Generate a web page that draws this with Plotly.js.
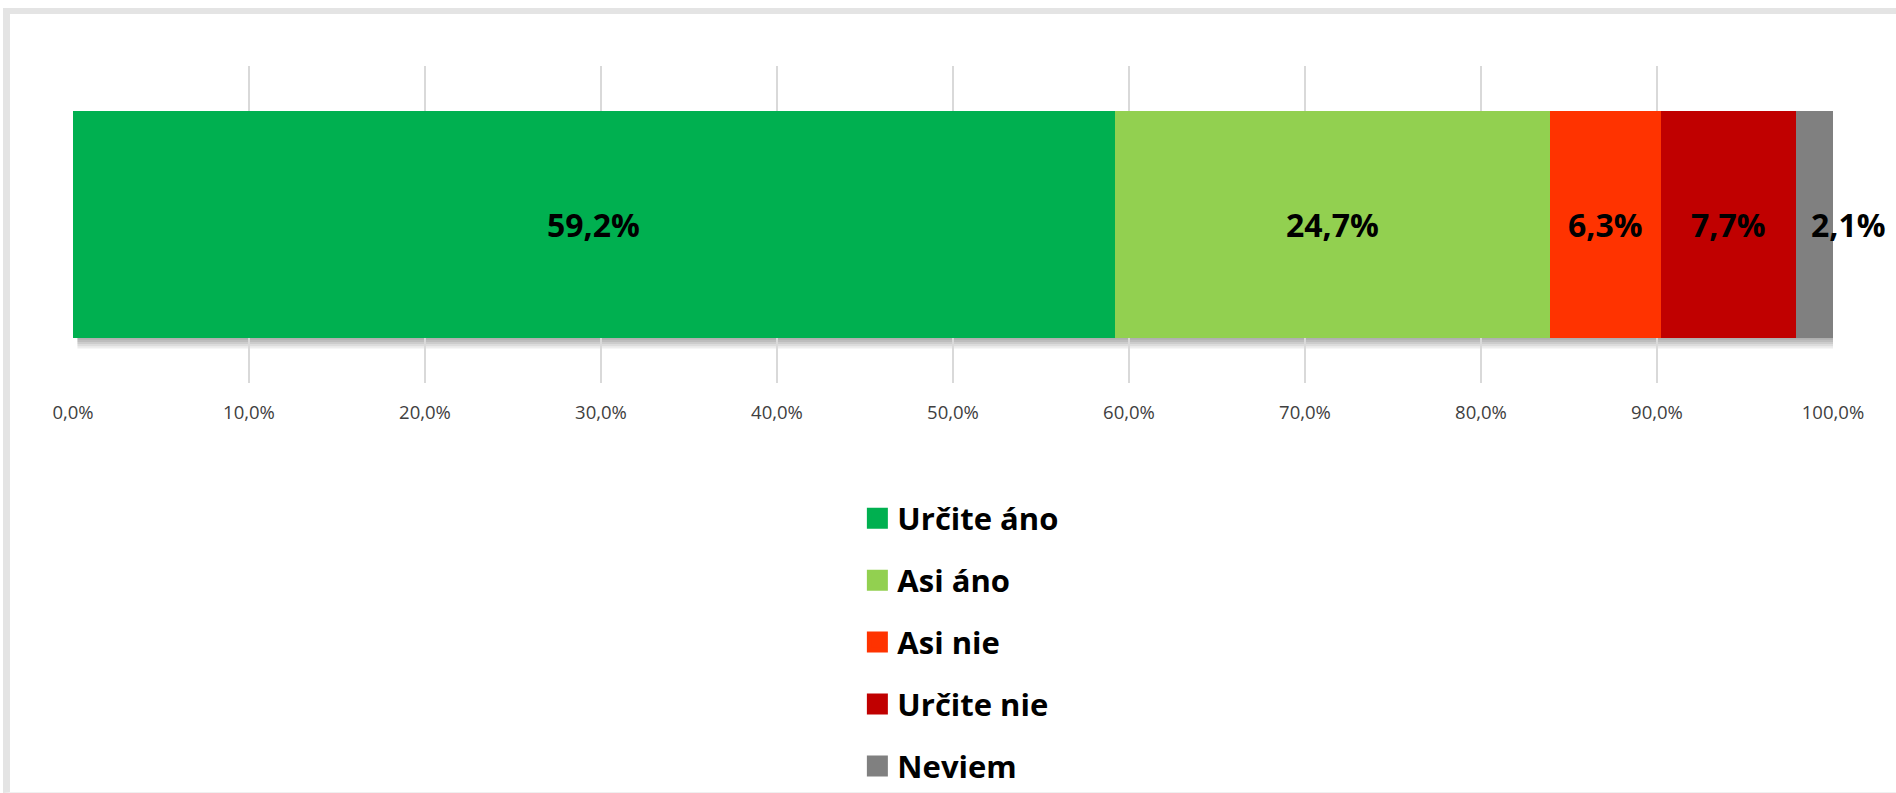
<!DOCTYPE html>
<html><head><meta charset="utf-8">
<script src="https://cdn.plot.ly/plotly-3.0.1.min.js"></script>
<style>
html,body{margin:0;padding:0;background:#fff;width:1896px;height:793px;overflow:hidden;}
#frame{position:absolute;left:3px;top:8px;width:1893px;height:785px;border-top:6px solid #e4e4e4;border-left:7px solid #e4e4e4;border-bottom:1px solid #f0f0f0;box-sizing:border-box;}
#chart{position:absolute;left:0;top:0;width:1896px;height:793px;}
</style></head><body>
<div id="frame"></div><div id="chart"></div>
<script>
const categories = ['Určite áno', 'Asi áno', 'Asi nie', 'Určite nie', 'Neviem'];
const values = [59.2, 24.7, 6.3, 7.7, 2.1];
const colors = ['#00B050', '#92D050', '#FF3300', '#C00000', '#808080'];
const tickVals = [0, 10, 20, 30, 40, 50, 60, 70, 80, 90, 100];

const fmt = v => v.toFixed(1).replace('.', ',') + '%';
const tickText = tickVals.map(fmt);
const BAR_W = 0.713;
const FONT = '"Open Sans", "DejaVu Sans", sans-serif';

const traces = [];
categories.forEach((c, i) => {
  traces.push({
    type: 'bar', orientation: 'h', name: c,
    x: [values[i]], y: [0], width: BAR_W,
    marker: {color: colors[i]},
    showlegend: false, hoverinfo: 'name+x'
  });
});
// legend entries (larger square symbols)
categories.forEach((c, i) => {
  traces.push({
    type: 'scatter', mode: 'markers', name: c,
    x: [null], y: [null], legendgroup: 'g' + i,
    marker: {symbol: 'square', size: 16, color: colors[i], line: {color: colors[i], width: 5}},
    hoverinfo: 'skip'
  });
});

const total = values.reduce((a, b) => a + b, 0);
const annotations = [];
let cum = 0;
values.forEach((v, i) => {
  annotations.push({
    x: cum + v / 2, y: 0, xref: 'x', yref: 'y', showarrow: false,
    text: fmt(v), xshift: (i === values.length - 1) ? 34 : 0,
    font: {family: FONT, size: 32, color: '#000', weight: 'bold'}
  });
  cum += v;
});

const shapes = [];
for (let k = 1; k <= 5; k++) {
  shapes.push({
    type: 'rect', layer: 'below', xref: 'x', yref: 'y',
    ysizemode: 'pixel', yanchor: -BAR_W / 2, y0: 0, y1: -2.2 * k,
    x0: 0.25, x1: total, line: {width: 0}, fillcolor: 'rgba(0,0,0,0.07)'
  });
  shapes.push({
    type: 'rect', layer: 'below', xref: 'x', yref: 'y',
    xsizemode: 'pixel', xanchor: total, x0: 0, x1: 1.0 * k,
    y0: -BAR_W / 2 + 0.01, y1: BAR_W / 2 - 0.01, line: {width: 0}, fillcolor: 'rgba(0,0,0,0.05)'
  });
}

const layout = {
  width: 1896, height: 793,
  margin: {l: 73, r: 63, t: 66, b: 410, pad: 0, autoexpand: false},
  paper_bgcolor: 'rgba(0,0,0,0)', plot_bgcolor: 'rgba(0,0,0,0)',
  separators: ', ',
  barmode: 'stack',
  font: {family: FONT, color: '#404040'},
  xaxis: {
    range: [0, 100], tickmode: 'array', tickvals: tickVals, ticktext: tickText,
    showgrid: true, gridcolor: '#d9d9d9', gridwidth: 1.5, zeroline: false,
    showline: false, ticks: '', ticklabelstandoff: 16, automargin: false,
    tickfont: {family: FONT, size: 18.5, color: '#404040'},
    fixedrange: true
  },
  yaxis: {range: [-0.5, 0.5], showgrid: false, zeroline: false, showticklabels: false, showline: false, fixedrange: true},
  showlegend: true,
  legend: {
    orientation: 'v', xref: 'container', yref: 'container',
    x: 0.4522, xanchor: 'left', y: 0.380, yanchor: 'top',
    font: {family: FONT, size: 31, color: '#000', weight: 'bold'},
    tracegroupgap: 18.6, itemsizing: 'trace', bgcolor: 'rgba(0,0,0,0)',
    traceorder: 'grouped'
  },
  annotations: annotations,
  shapes: shapes
};

Plotly.newPlot('chart', traces, layout, {displayModeBar: false, staticPlot: true});
</script>
</body></html>
